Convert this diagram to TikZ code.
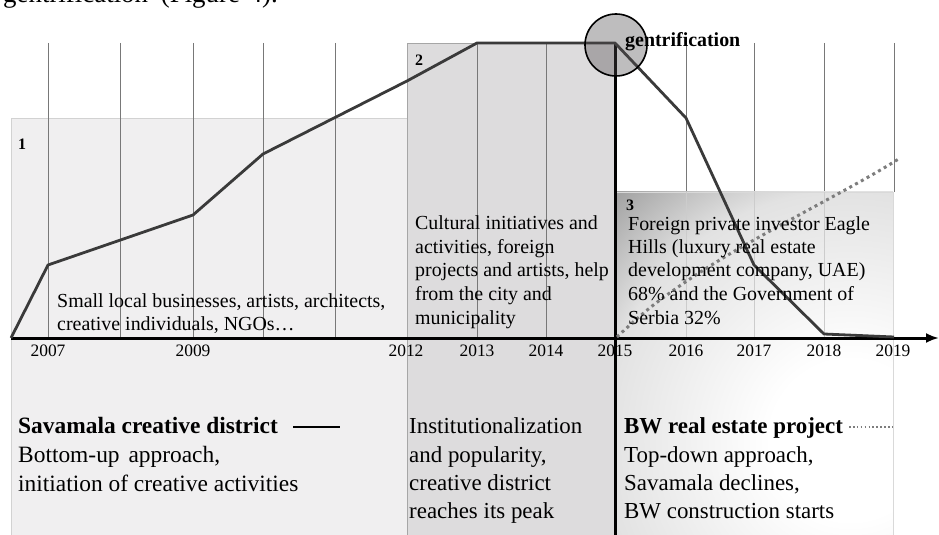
\documentclass[tikz,border=0pt]{standalone}
\usepackage{fontspec}
\setmainfont{Liberation Serif}
\usetikzlibrary{arrows.meta}
\definecolor{rone}{RGB}{240,239,240}
\definecolor{rtwo}{RGB}{221,220,221}
\definecolor{gridc}{RGB}{120,120,120}
\definecolor{curvec}{RGB}{58,58,58}
\definecolor{circc}{RGB}{80,75,78}
\definecolor{dotc}{RGB}{125,125,125}
\definecolor{sA}{RGB}{226,226,226}
\definecolor{sB}{RGB}{158,158,158}
\pgfdeclareradialshading{regthree}{\pgfpointorigin}{color(0bp)=(white); color(80bp)=(white); color(250bp)=(sA); color(345bp)=(sB); color(420bp)=(sB)}
\begin{document}
\begin{tikzpicture}[x=1bp,y=-1bp,
  lbl/.style={inner sep=0pt, anchor=base west, font=\fontsize{20}{24}\selectfont},
  yr/.style={inner sep=0pt, anchor=base, font=\fontsize{17.5}{20}\selectfont},
  big/.style={inner sep=0pt, anchor=base west, font=\fontsize{23}{28}\selectfont},
  bigl/.style={inner sep=0pt, anchor=base west, font=\fontsize{23.5}{28}\selectfont},
  num/.style={inner sep=0pt, font=\fontsize{16}{18}\selectfont\bfseries},
  gridline/.style={draw=gridc, line width=0.9bp},
  faintgrid/.style={draw=gray!40, line width=0.9bp},
  curve/.style={draw=curvec, line width=2.8bp, line join=round},
  dots/.style={draw=dotc, line width=3bp, dash pattern=on 3bp off 3.6bp}]
\useasboundingbox (0,0) rectangle (939,535);
\clip (0,0) rectangle (939,535);

% clipped running text at the top
\node[inner sep=0pt, anchor=base west, font=\fontsize{27}{30}\selectfont] (ctx) at (3,3) {gentrification\hspace{6bp} (Figure\hspace{2bp} 4).};

% region 1 and 2
\fill[rone] (11,118) rectangle (407,535);
\draw[gray!35, line width=0.8bp] (11,535) -- (11,118) -- (407,118);
\fill[rtwo] (407,43) rectangle (615,535);
\draw[gray!70, line width=0.9bp] (407,535) -- (407,43) -- (615,43);

% grid lines
\foreach \gx in {48,120,193,263,335,477,546}
  \draw[gridline] (\gx,43) -- (\gx,338);
\foreach \gx in {686,754,824,894}
  \draw[gridline] (\gx,43) -- (\gx,192);

% region 3 (gradient)
\begin{scope}
  \clip (615,192) rectangle (893,535);
  \node[inner sep=0pt] (shd) at (850,440) {\pgfuseshading{regthree}};
\end{scope}
\draw[gray!30, line width=0.8bp] (615,192) -- (893,192) -- (893,535);
\foreach \gx in {686,754,824}
  \draw[faintgrid] (\gx,192) -- (\gx,338);

% axis
\draw[line width=3bp, -{Latex[length=13bp,width=10bp]}] (11,338) -- (939,338);
% divider
\draw[line width=3bp] (615,43) -- (615,535);

% curves
\draw[dots] plot[smooth, tension=0.6] coordinates {(617,337) (660,300) (733,252) (863,180) (900,158)};
\draw[curve] (11,338) -- (48,265) -- (193,215) -- (263,154) -- (407,81) -- (477,43) -- (615,43) -- (686,118) -- (754,265) -- (824,334) -- (894,337);

% gentrification circle
\draw[line width=1.6bp, fill=circc, fill opacity=0.37] (616,45) circle[radius=31];
\node[inner sep=0pt, anchor=base west, font=\fontsize{20}{22}\selectfont\bfseries] (gent) at (625,47) {gentrification};

% phase numbers
\node[num] (n1) at (22,144) {1};
\node[num] (n2) at (419,60) {2};
\node[num] (n3) at (630,205) {3};

% years
\node[yr] (y07) at (48,357) {2007};
\node[yr] (y09) at (193,357) {2009};
\node[yr] (y12) at (406,357) {2012};
\node[yr] (y13) at (477,357) {2013};
\node[yr] (y14) at (546,357) {2014};
\node[yr] (y15) at (615,357) {2015};
\node[yr] (y16) at (686,357) {2016};
\node[yr] (y17) at (754,357) {2017};
\node[yr] (y18) at (824,357) {2018};
\node[yr] (y19) at (893,357) {2019};

% region 1 text
\node[lbl] (a1) at (57,308) {Small local businesses, artists, architects,};
\node[lbl] (a2) at (57,331) {creative individuals, NGOs…};

% region 2 text
\node[lbl] (b1) at (415,230) {Cultural initiatives and};
\node[lbl] (b2) at (415,254) {activities, foreign};
\node[lbl] (b3) at (415,277) {projects and artists, help};
\node[lbl] (b4) at (415,301) {from the city and};
\node[lbl] (b5) at (415,325) {municipality};

% region 3 text
\node[lbl] (c1) at (628,231) {Foreign private investor Eagle};
\node[lbl] (c2) at (628,254) {Hills (luxury real estate};
\node[lbl] (c3) at (628,277) {development company, UAE)};
\node[lbl] (c4) at (628,301) {68\% and the Government of};
\node[lbl] (c5) at (628,325) {Serbia 32\%};

% bottom texts
\node[bigl, font=\fontsize{23.5}{28}\selectfont\bfseries] (d1) at (18,433) {Savamala creative district};
\draw[line width=2.2bp] (293,427) -- (340,427);
\node[bigl] (d2) at (18,462) {Bottom-up\hspace{3bp} approach,};
\node[bigl] (d3) at (18,491) {initiation of creative activities};

\node[big] (e1) at (409,433) {Institutionalization};
\node[big] (e2) at (409,462) {and popularity,};
\node[big] (e3) at (409,490) {creative district};
\node[big] (e4) at (409,518) {reaches its peak};

\node[big, font=\fontsize{23}{28}\selectfont\bfseries] (f1) at (624,433) {BW real estate project};
\draw[dotc, line width=1.6bp, dash pattern=on 1.6bp off 2.3bp] (849,427) -- (893,427);
\node[big] (f2) at (624,462) {Top-down approach,};
\node[big] (f3) at (624,490) {Savamala declines,};
\node[big] (f4) at (624,518) {BW construction starts};
\end{tikzpicture}
\end{document}
